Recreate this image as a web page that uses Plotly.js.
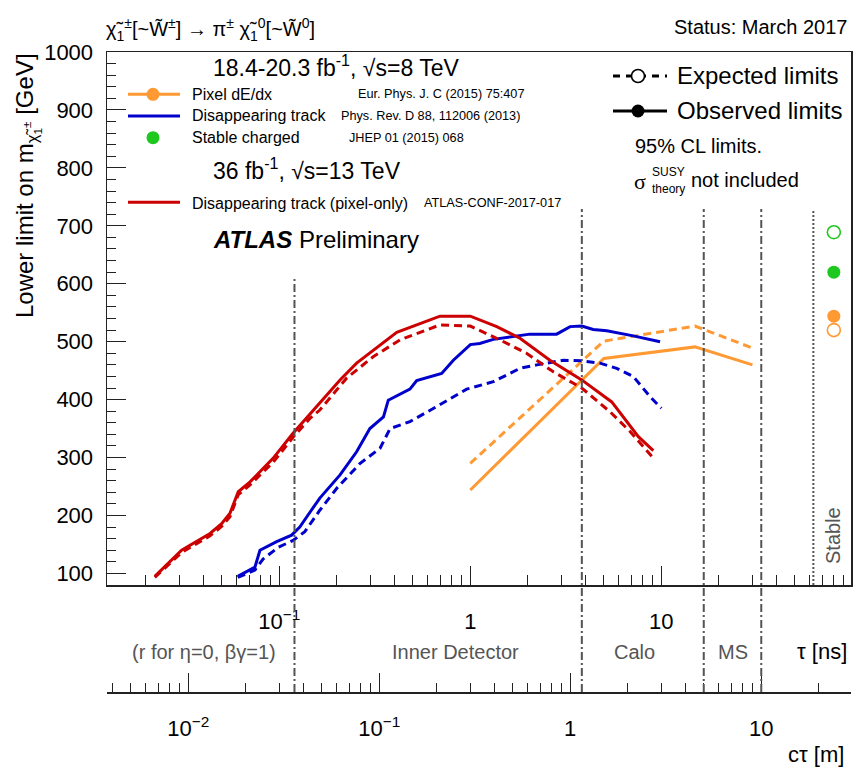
<!DOCTYPE html>
<html>
<head>
<meta charset="utf-8">
<script src="https://cdn.plot.ly/plotly-3.0.1.min.js"></script>
<style>html,body{margin:0;padding:0;background:#fff;}#chart{width:854px;height:769px;}</style>
</head>
<body>
<div id="chart"></div>
<script>
// ---------------- data (τ in ns, mass limit in GeV) ----------------
const redObsTau = [0.0223, 0.0308, 0.0434, 0.0499, 0.0552, 0.061, 0.0703, 0.093, 0.118, 0.145, 0.163, 0.208, 0.254, 0.324, 0.412, 0.694, 1.0, 1.375, 1.82, 2.61, 3.83, 5.5, 6.86, 7.58, 9.08];
const redObsM   = [95, 140, 169, 186, 204, 241, 258, 299, 342, 376, 394, 434, 463, 489, 516, 544, 544, 526, 506, 468, 434, 396, 356, 336, 312];
const redExpTau = [0.0223, 0.0308, 0.0434, 0.0499, 0.0552, 0.061, 0.0703, 0.093, 0.118, 0.145, 0.163, 0.225, 0.31, 0.428, 0.694, 1.0, 1.43, 1.97, 2.72, 3.83, 5.39, 6.86, 9.08];
const redExpM   = [93, 136, 165, 181, 198, 236, 253, 292, 335, 368, 382, 437, 474, 503, 529, 527, 503, 480, 448, 420, 379, 345, 299];

const blueObsTau = [0.0606, 0.0746, 0.0792, 0.0969, 0.116, 0.128, 0.145, 0.163, 0.208, 0.254, 0.298, 0.351, 0.372, 0.483, 0.524, 0.708, 0.815, 1.0, 1.12, 1.32, 2.05, 2.83, 3.33, 3.83, 4.40, 5.18, 7.13, 9.85];
const blueObsM   = [95, 111, 140, 155, 166, 180, 206, 230, 270, 310, 350, 370, 399, 418, 433, 445, 468, 495, 497, 504, 513, 513, 526, 527, 521, 519, 510, 500];
const blueExpTau = [0.0606, 0.0746, 0.0824, 0.0988, 0.118, 0.136, 0.163, 0.2, 0.265, 0.337, 0.38, 0.483, 0.667, 0.957, 1.32, 1.82, 2.23, 3.07, 3.83, 4.77, 5.84, 7.13, 8.73, 10.0];
const blueExpM   = [93, 106, 125, 145, 157, 172, 209, 247, 290, 316, 350, 362, 388, 418, 431, 454, 460, 468, 467, 463, 454, 440, 405, 385];

const orangeObsTau = [1.0, 5.0, 15.0, 30.0];
const orangeObsM   = [244, 471, 491, 460];
const orangeExpTau = [1.0, 5.0, 15.0, 30.0];
const orangeExpM   = [290, 501, 527, 489];

const stableTau = [80];          // drawn in the "Stable" column
const stableGreenObs  = [620];
const stableGreenExp  = [689];
const stableOrangeObs = [544];
const stableOrangeExp = [520];

const regionCtau = [0.036, 1.15, 5.0, 10.0];   // detector boundaries, cτ [m]
const stableLineTau = 62.5;                     // τ [ns]
const regionLabels = ['(r for η=0, βγ=1)', 'Inner Detector', 'Calo', 'MS'];

const tauTickVals = [0.1, 1, 10];
const tauTickText = ['10<sup>−1</sup>', '1', '10'];
const ctauTickVals = [0.01, 0.1, 1, 10];
const ctauTickText = ['10<sup>−2</sup>', '10<sup>−1</sup>', '1', '10'];
const massTicks = [100, 200, 300, 400, 500, 600, 700, 800, 900, 1000];

// ---------------- styling / helpers ----------------
const C_TO_M = 0.299792458; // cτ[m] = 0.2998 * τ[ns]
const RED = '#cc0000', BLUE = '#0000cc', ORANGE = '#ff9933', GREEN = '#1ec81e', GRAY = '#555555';
const FONT = 'Liberation Sans, Arial, Helvetica, sans-serif';
const L = 107, R = 3, T = 52, B = 77, W = 854, H = 769;
const px = x => (x - L) / (W - L - R);
const py = y => (H - B - y) / (H - T - B);

function minorLog(lo, hi) {
  const v = [];
  for (let e = -4; e <= 3; e++) for (let k = 2; k <= 9; k++) {
    const t = k * Math.pow(10, e);
    if (t > lo && t < hi) v.push(t);
  }
  return v;
}
const tauLo = -1.902, tauHi = 1.993;
const ctLo = tauLo + Math.log10(C_TO_M), ctHi = tauHi + Math.log10(C_TO_M);
const massMinor = [];
for (let m = 80; m <= 1000; m += 20) if (m % 100 !== 0) massMinor.push(m);

const dashPat = '8px,5px';
function line(x, y, color, dash, name) {
  return {x, y, type: 'scatter', mode: 'lines', name, hoverinfo: 'skip', showlegend: false,
          line: {color, width: 3, dash: dash ? dashPat : 'solid'}};
}
function pt(x, y, color, open) {
  return {x, y, type: 'scatter', mode: 'markers', hoverinfo: 'skip', showlegend: false,
          marker: {size: 13, color, symbol: open ? 'circle-open' : 'circle',
                   line: {color, width: open ? 1.6 : 0}}};
}

const traces = [
  line(orangeExpTau, orangeExpM, ORANGE, true, 'Pixel dE/dx exp'),
  line(orangeObsTau, orangeObsM, ORANGE, false, 'Pixel dE/dx obs'),
  line(blueExpTau, blueExpM, BLUE, true, 'Disappearing track exp'),
  line(blueObsTau, blueObsM, BLUE, false, 'Disappearing track obs'),
  line(redExpTau, redExpM, RED, true, 'Pixel-only exp'),
  line(redObsTau, redObsM, RED, false, 'Pixel-only obs'),
  pt(stableTau, stableGreenExp, GREEN, true),
  pt(stableTau, stableGreenObs, GREEN, false),
  pt(stableTau, stableOrangeObs, ORANGE, false),
  pt(stableTau, stableOrangeExp, ORANGE, true),
  {x: [1], y: [null], xaxis: 'x2', yaxis: 'y', type: 'scatter', mode: 'lines', showlegend: false, hoverinfo: 'skip'}
];

// ---------------- shapes ----------------
const shapes = [];
regionCtau.forEach((c, i) => {
  shapes.push({type: 'line', xref: 'x', yref: 'paper', x0: c / C_TO_M, x1: c / C_TO_M,
    y0: py(692), y1: py(i === 0 ? 278 : 209), line: {color: GRAY, width: 2, dash: '8px,3px,2px,3px'}});
});
shapes.push({type: 'line', xref: 'x', yref: 'paper', x0: stableLineTau, x1: stableLineTau,
  y0: py(585), y1: py(209), line: {color: GRAY, width: 2, dash: '2px,2px'}});

function keyLine(x0, x1, y, color, dash) {
  shapes.push({type: 'line', xref: 'paper', yref: 'paper', x0: px(x0), x1: px(x1), y0: py(y), y1: py(y),
    line: {color, width: 3, dash: dash ? '7px,6px' : 'solid'}});
}
function keyDot(x, y, color, open) {
  shapes.push({type: 'circle', xref: 'paper', yref: 'paper', xsizemode: 'pixel', ysizemode: 'pixel',
    xanchor: px(x), yanchor: py(y), x0: -6.5, x1: 6.5, y0: -6.5, y1: 6.5,
    fillcolor: open ? 'white' : color, line: {color, width: open ? 1.6 : 0}});
}
keyLine(128, 180, 94.3, ORANGE); keyDot(153, 94.3, ORANGE);
keyLine(128, 180, 116, BLUE);
keyDot(153, 137.7, GREEN);
keyLine(128, 180, 202.3, RED);
keyLine(613, 667, 76, 'black', true); keyDot(638, 76, 'black', true);
keyLine(613, 667, 111, 'black'); keyDot(638, 111, 'black');

// ---------------- annotations ----------------
const annotations = [];
function ann(text, x, y, size, o) {
  o = o || {};
  annotations.push(Object.assign({text, xref: 'paper', yref: 'paper', x: px(x), y: py(y), showarrow: false,
    xanchor: 'left', yanchor: 'middle', font: {family: FONT, size, color: 'black'}}, o));
}
ann('χ̃<sub>1</sub><sup>±</sup>[~W̃<sup>±</sup>] → π<sup>±</sup> χ̃<sub>1</sub><sup>0</sup>[~W̃<sup>0</sup>]', 104, 30, 20);
ann('Status: March 2017', 849, 27, 20, {xanchor: 'right'});
ann('18.4-20.3 fb<sup>-1</sup>, √s=8 TeV', 211, 66, 23);
ann('Pixel dE/dx', 190, 94, 16);
ann('Disappearing track', 190, 116, 16);
ann('Stable charged', 190, 137.7, 16);
ann('36 fb<sup>-1</sup>, √s=13 TeV', 211, 169, 23);
ann('Disappearing track (pixel-only)', 190, 203, 16);
ann('Eur. Phys. J. C (2015) 75:407', 356, 94, 12.7);
ann('Phys. Rev. D 88, 112006 (2013)', 339, 116, 12.7);
ann('JHEP 01 (2015) 068', 347, 138, 12.7);
ann('ATLAS-CONF-2017-017', 422, 203, 12.7);
ann('<b><i>ATLAS</i></b> Preliminary', 211, 240, 24);
ann('Expected limits', 675, 76, 24);
ann('Observed limits', 675, 111, 24);
ann('95% CL limits.', 633, 146, 20);
ann('σ', 632, 181, 22, {font: {family: 'Liberation Serif, serif', size: 22, color: 'black'}});
ann('SUSY', 650, 172, 12);
ann('theory', 650, 189, 12);
ann('not included', 689, 180, 20);
const regionX = [204, 455, 634, 733];
regionLabels.forEach((t, i) => ann(t, regionX[i], 652, 20, {xanchor: 'center', font: {family: FONT, size: 20, color: GRAY}}));
ann('τ [ns]', 849, 651, 22, {xanchor: 'right'});
ann('cτ [m]', 846, 754, 22, {xanchor: 'right'});
ann('Stable', 833, 536, 20, {xanchor: 'center', textangle: -90, font: {family: FONT, size: 20, color: GRAY}});
ann('Lower limit on m<sub>χ̃<sub>1</sub><sup>±</sup></sub> [GeV]', 27, 186, 24, {xanchor: 'center', textangle: -90});

// ---------------- layout ----------------
const axisFont = {family: FONT, size: 22, color: 'black'};
const layout = {
  width: W, height: H, autosize: false,
  margin: {l: L, r: R, t: T, b: B, pad: 0},
  paper_bgcolor: 'white', plot_bgcolor: 'white',
  showlegend: false,
  font: {family: FONT, color: 'black'},
  xaxis: {
    type: 'log', range: [tauLo, tauHi], anchor: 'y',
    showgrid: false, zeroline: false, showline: true, mirror: true, linecolor: '#222', linewidth: 1.5,
    ticks: 'inside', ticklen: 19, tickwidth: 1, tickcolor: '#222',
    tickmode: 'array', tickvals: tauTickVals, ticktext: tauTickText,
    tickfont: axisFont, ticklabelstandoff: 16,
    minor: {tickmode: 'array', tickvals: minorLog(Math.pow(10, tauLo), Math.pow(10, tauHi)), ticks: 'inside', ticklen: 10, tickwidth: 1, tickcolor: '#222', showgrid: false}
  },
  xaxis2: {
    type: 'log', range: [ctLo, ctHi], overlaying: 'x', anchor: 'free', position: 0, side: 'bottom',
    showgrid: false, zeroline: false, showline: true, linecolor: '#222', linewidth: 1.5,
    ticks: 'inside', ticklen: 19, tickwidth: 1, tickcolor: '#222',
    tickmode: 'array', tickvals: ctauTickVals, ticktext: ctauTickText,
    tickfont: axisFont, ticklabelstandoff: 16,
    minor: {tickmode: 'array', tickvals: minorLog(Math.pow(10, ctLo), Math.pow(10, ctHi)), ticks: 'inside', ticklen: 9, tickwidth: 1, tickcolor: '#222', showgrid: false}
  },
  yaxis: {
    range: [80, 1000], domain: [py(585), 1],
    showgrid: false, zeroline: false, showline: true, mirror: true, linecolor: '#222', linewidth: 1.5,
    ticks: 'inside', ticklen: 19, tickwidth: 1, tickcolor: '#222',
    tickmode: 'array', tickvals: massTicks, ticktext: massTicks.map(String),
    tickfont: axisFont, ticklabelstandoff: 8,
    minor: {tickmode: 'array', tickvals: massMinor, ticks: 'inside', ticklen: 9, tickwidth: 1, tickcolor: '#222', showgrid: false}
  },
  shapes, annotations
};
Plotly.newPlot('chart', traces, layout, {displayModeBar: false, staticPlot: true});
</script>
</body>
</html>
